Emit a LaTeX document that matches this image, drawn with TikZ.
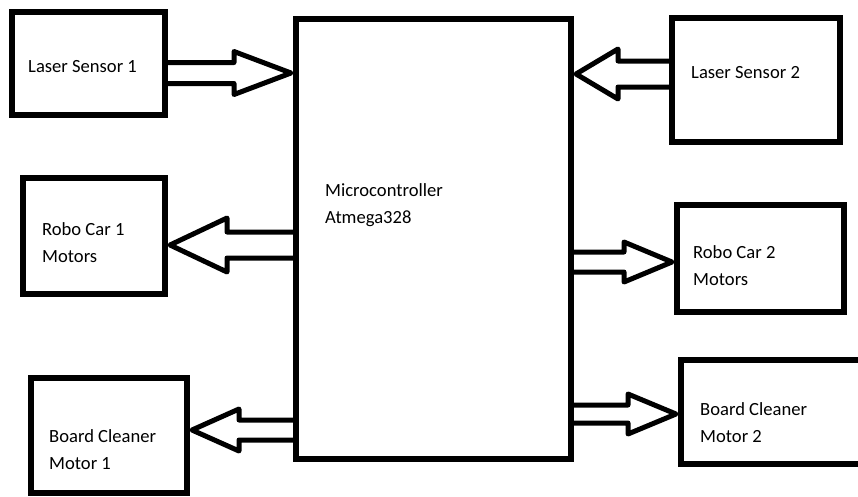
\documentclass[tikz,border=0pt]{standalone}
\usepackage{fontspec}
\setmainfont{Carlito}
\usetikzlibrary{calc,positioning}

% hollow block arrow: start anchor, tip anchor, y, shaft half, head half, head length
\newcommand{\fatarrow}[6]{%
  \coordinate (fs) at (#1 |- 0,#3);
  \coordinate (ft) at (#2 |- 0,#3);
  \coordinate (fp) at ($(ft)!5pt!(fs)$);
  \coordinate (fb) at ($(ft)!#6pt!(fs)$);
  \draw[fat] ($(fs)+(0,#4)$) -- ($(fb)+(0,#4)$) -- ($(fb)+(0,#5)$) -- (fp)
    -- ($(fb)+(0,-#5)$) -- ($(fb)+(0,-#4)$) -- ($(fs)+(0,-#4)$);
}

\begin{document}
\begin{tikzpicture}[x=1pt,y=-1pt,font=\fontsize{18.6}{27}\selectfont]
    \tikzstyle{blk}=[draw,line width=5.5pt,inner sep=0pt,outer sep=0pt]
    \tikzstyle{lbl}=[anchor=base west,align=left,inner sep=0pt]
    \tikzstyle{fat}=[line width=5pt,line join=round]
    \useasboundingbox (0,0) rectangle (858,496);
    \node[blk,minimum width=275pt,minimum height=440pt] (mc)  at (433.5,239) {};
    \node[blk,minimum width=153pt,minimum height=103pt] (ls1) at (88.5,63.5) {};
    \node[blk,minimum width=168pt,minimum height=124pt] (ls2) at (756,80) {};
    \node[blk,minimum width=142pt,minimum height=116pt] (rc1) at (94,236) {};
    \node[blk,minimum width=167pt,minimum height=107pt] (rc2) at (760.5,258.5) {};
    \node[blk,minimum width=156pt,minimum height=115pt] (bc1) at (109,435.5) {};
    \node[blk,minimum width=181pt,minimum height=104pt] (bc2) at (771.5,412) {};
    % base west of a two-line label sits on its last line
    \node[lbl] (mct)  at ([shift={(29,204)}]mc.north west)  {Microcontroller\\Atmega328};
    \node[lbl] (ls1t) at ([shift={(16,60)}]ls1.north west)  {Laser Sensor 1};
    \node[lbl] (ls2t) at ([shift={(19,60)}]ls2.north west)  {Laser Sensor 2};
    \node[lbl] (rc1t) at ([shift={(19,84)}]rc1.north west)  {Robo Car 1\\Motors};
    \node[lbl] (rc2t) at ([shift={(16,80)}]rc2.north west)  {Robo Car 2\\Motors};
    \node[lbl] (bc1t) at ([shift={(18,91)}]bc1.north west)  {Board Cleaner\\Motor 1};
    \node[lbl] (bc2t) at ([shift={(19,82)}]bc2.north west)  {Board Cleaner\\Motor 2};
    \foreach \a/\b/\y/\s/\h/\l in {ls1.east/mc.west/73/10.5/21.5/62, ls2.west/mc.east/74/13/25/47,
        mc.west/rc1.east/245/13/27/62, mc.east/rc2.west/262/10/20/53,
        mc.west/bc1.east/430/10/21/52, mc.east/bc2.west/414/9/20/53}
      {\fatarrow{\a}{\b}{\y}{\s}{\h}{\l}}
\end{tikzpicture}
\end{document}
